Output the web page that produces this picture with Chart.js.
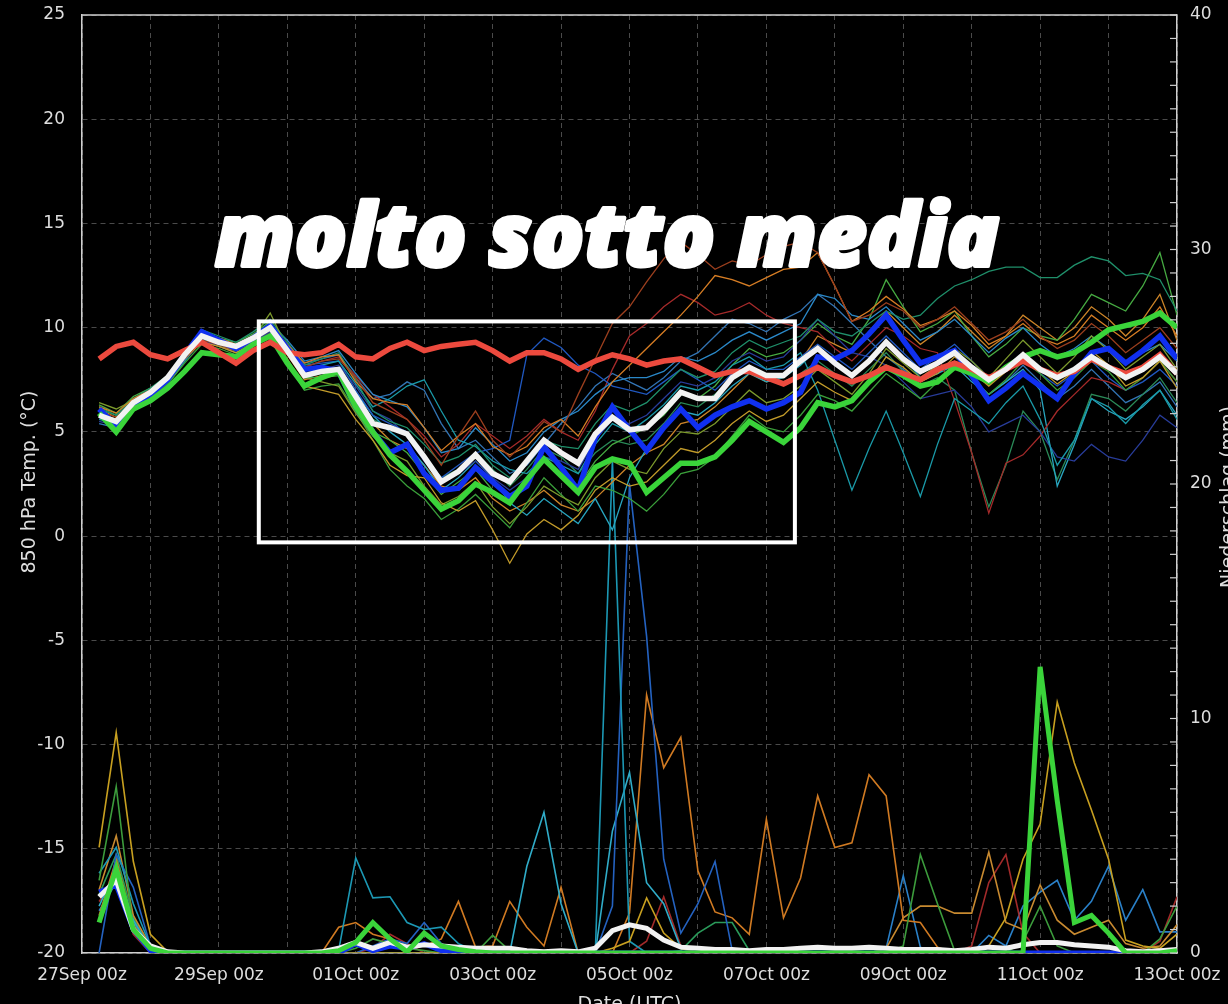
<!DOCTYPE html>
<html>
<head>
<meta charset="utf-8">
<script src="https://cdn.jsdelivr.net/npm/chart.js@4.4.1/dist/chart.umd.min.js"></script>
<style>
  html, body { margin: 0; padding: 0; background: #000; overflow: hidden; }
  #wrap { width: 1228px; height: 1004px; }
</style>
</head>
<body>
<div id="wrap"><canvas id="ensChart" width="1228" height="1004"></canvas></div>
<script>
// x axis: hours after 27Sep 00z, one value every 6 h starting at 06z
const stepHours = 6;
const tickLabels = ['27Sep 00z', '29Sep 00z', '01Oct 00z', '03Oct 00z', '05Oct 00z',
    '07Oct 00z', '09Oct 00z', '11Oct 00z', '13Oct 00z'];

// 850 hPa temperature (°C)
const tempMean = [
    5.8, 5.5, 6.4, 6.9, 7.6, 8.7, 9.6, 9.3,
    9.1, 9.5, 10.0, 8.9, 7.7, 7.9, 8.0, 6.7,
    5.4, 5.2, 4.9, 3.8, 2.6, 3.1, 3.9, 3.0,
    2.6, 3.6, 4.6, 4.0, 3.5, 4.9, 5.7, 5.1,
    5.2, 6.0, 6.9, 6.6, 6.6, 7.6, 8.1, 7.7,
    7.7, 8.4, 9.0, 8.3, 7.7, 8.4, 9.3, 8.5,
    7.9, 8.3, 8.8, 8.1, 7.5, 8.0, 8.7, 8.0,
    7.6, 8.0, 8.6, 8.1, 7.6, 8.0, 8.6, 7.8];
const tempCtrl = [
    6.1, 5.3, 6.3, 6.8, 7.5, 8.7, 9.8, 9.4,
    9.0, 9.5, 10.1, 9.0, 8.0, 8.1, 7.9, 6.2,
    5.0, 4.0, 4.4, 3.0, 2.2, 2.3, 3.3, 2.6,
    1.9, 2.4, 4.3, 3.3, 2.2, 4.7, 6.2, 5.1,
    4.1, 5.2, 6.1, 5.2, 5.8, 6.2, 6.5, 6.1,
    6.4, 6.9, 8.6, 8.5, 8.9, 9.7, 10.6, 9.4,
    8.3, 8.6, 8.9, 7.7, 6.5, 7.1, 7.8, 7.2,
    6.6, 7.8, 8.8, 9.0, 8.3, 8.9, 9.6, 8.5];
const tempOper = [
    5.9, 5.0, 6.1, 6.5, 7.1, 7.9, 8.8, 8.7,
    8.6, 9.2, 9.6, 8.3, 7.2, 7.6, 7.9, 6.2,
    5.0, 3.9, 3.1, 2.2, 1.3, 1.7, 2.5, 2.1,
    1.6, 2.7, 3.7, 2.9, 2.1, 3.3, 3.7, 3.5,
    2.1, 2.8, 3.5, 3.5, 3.8, 4.6, 5.5, 5.0,
    4.5, 5.2, 6.4, 6.2, 6.5, 7.4, 8.1, 7.7,
    7.2, 7.4, 8.1, 7.8, 7.4, 8.1, 8.6, 8.9,
    8.6, 8.8, 9.3, 9.9, 10.1, 10.3, 10.7, 10.0];
const tempClim = [
    8.5, 9.1, 9.3, 8.7, 8.5, 8.9, 9.3, 8.8,
    8.3, 8.9, 9.3, 8.8, 8.7, 8.8, 9.2, 8.6,
    8.5, 9.0, 9.3, 8.9, 9.1, 9.2, 9.3, 8.9,
    8.4, 8.8, 8.8, 8.5, 8.0, 8.4, 8.7, 8.5,
    8.2, 8.4, 8.5, 8.1, 7.7, 7.9, 7.9, 7.6,
    7.3, 7.7, 8.1, 7.7, 7.4, 7.7, 8.1, 7.8,
    7.5, 8.0, 8.3, 8.0, 7.6, 8.0, 8.4, 8.0,
    7.7, 7.9, 8.5, 8.1, 7.8, 8.1, 8.7, 7.8];

// ensemble members, temperature
const tempM01 = [
    6.0, 5.7, 6.3, 6.8, 7.4, 8.5, 9.4, 9.2,
    8.9, 9.4, 9.9, 9.0, 8.1, 8.4, 8.5, 7.6,
    6.4, 6.0, 5.6, 4.6, 3.4, 4.8, 6.0, 4.6,
    3.8, 4.6, 5.5, 5.0, 6.8, 8.5, 10.2, 11.0,
    12.2, 13.3, 14.1, 13.5, 12.8, 13.2, 13.0, 13.5,
    13.9, 14.1, 13.6, 12.0, 10.3, 10.6, 11.2, 10.8,
    10.0, 10.4, 11.0, 10.2, 9.4, 9.8, 10.4, 9.6,
    9.0, 9.4, 10.2, 9.6, 8.8, 9.4, 10.0, 9.0];
const tempM02 = [
    6.2, 5.9, 6.6, 7.0, 7.7, 8.8, 9.8, 9.5,
    9.2, 9.6, 10.1, 9.2, 8.3, 8.6, 8.7, 7.4,
    6.6, 6.4, 6.3, 5.2, 4.1, 4.8, 5.4, 4.3,
    3.9, 4.3, 5.2, 5.6, 4.8, 6.2, 7.4, 8.2,
    9.0, 9.8, 10.6, 11.5, 12.5, 12.3, 12.0, 12.4,
    12.8, 12.9, 13.6, 12.0, 10.3, 10.8, 11.5, 10.9,
    10.1, 10.4, 10.8, 10.1, 9.2, 9.6, 10.2, 9.5,
    9.2, 9.6, 10.6, 10.0, 9.4, 10.0, 11.0, 9.6];
const tempM03 = [
    5.9, 5.6, 6.2, 6.7, 7.4, 8.5, 9.3, 9.1,
    8.8, 9.2, 9.7, 8.5, 7.2, 7.0, 6.8, 5.6,
    4.6, 3.4, 2.9, 2.8, 1.6, 1.2, 1.7, 0.3,
    -1.3, 0.1, 0.8, 0.3, 1.0, 2.2, 2.8, 2.4,
    2.6, 3.4, 4.2, 4.0, 4.6, 5.4, 6.0, 5.5,
    5.8, 6.6, 7.4, 6.9, 6.5, 7.4, 8.6, 8.1,
    7.4, 7.8, 8.6, 7.9, 7.2, 7.9, 8.8, 8.0,
    7.3, 7.9, 8.9, 8.2, 7.2, 7.6, 8.4, 7.1];
const tempM04 = [
    6.4, 6.1, 6.5, 6.9, 7.5, 8.6, 9.6, 9.3,
    9.0, 9.5, 10.7, 9.0, 7.6, 7.4, 7.2, 5.9,
    4.8, 4.0, 3.6, 2.4, 1.5, 1.9, 2.6, 1.4,
    0.6, 1.4, 2.4, 1.9, 1.5, 2.8, 3.6, 3.2,
    3.0, 4.2, 5.0, 4.9, 5.4, 6.2, 7.0, 6.4,
    6.6, 7.2, 8.0, 7.4, 6.8, 7.8, 9.0, 8.3,
    7.6, 8.2, 9.0, 8.4, 7.6, 8.5, 9.4, 8.6,
    7.8, 8.6, 9.6, 8.9, 8.0, 8.6, 9.2, 8.0];
const tempM05 = [
    6.0, 5.2, 6.2, 6.6, 7.3, 8.3, 9.2, 9.0,
    8.7, 9.1, 9.6, 8.3, 7.0, 7.2, 7.3, 6.0,
    4.6, 3.2, 2.4, 1.8, 0.8, 1.3, 2.0, 1.2,
    0.4, 1.6, 2.8, 2.0, 1.2, 2.4, 2.2, 1.8,
    1.2, 2.0, 3.0, 3.2, 3.8, 4.8, 5.8, 5.2,
    5.0, 5.8, 6.8, 6.5, 6.0, 6.9, 7.8, 7.2,
    6.6, 7.4, 8.3, 7.6, 6.8, 7.5, 8.4, 7.8,
    7.0, 7.6, 8.4, 7.9, 7.0, 7.6, 8.4, 7.4];
const tempM06 = [
    6.1, 5.8, 6.6, 7.1, 7.7, 8.8, 9.9, 9.6,
    9.3, 9.8, 10.4, 9.3, 8.2, 8.5, 8.8, 7.5,
    6.0, 5.5, 5.2, 4.4, 3.5, 3.8, 4.4, 3.4,
    2.8, 3.6, 4.6, 4.3, 4.2, 5.4, 6.3, 6.0,
    6.4, 7.2, 8.0, 7.6, 7.9, 8.8, 9.4, 9.0,
    9.3, 9.6, 10.4, 9.8, 9.6, 10.2, 10.8, 10.4,
    10.6, 11.4, 12.0, 12.3, 12.7, 12.9, 12.9, 12.4,
    12.4, 13.0, 13.4, 13.2, 12.5, 12.6, 12.3, 10.8];
const tempM07 = [
    5.6, 5.4, 6.1, 6.6, 7.3, 8.4, 9.5, 9.2,
    9.0, 9.4, 10.0, 9.2, 8.0, 8.2, 8.4, 7.3,
    6.2, 6.6, 7.2, 7.5, 6.0, 4.6, 4.3, 3.6,
    3.2, 3.0, 3.8, 3.4, 3.0, 4.4, 5.4, 5.0,
    5.6, 6.3, 7.2, 7.0, 7.4, 8.2, 8.6, 8.0,
    8.2, 8.8, 7.0, 4.6, 2.2, 4.2, 6.0, 4.0,
    1.9, 4.4, 6.6, 6.0, 5.4, 6.4, 7.2, 5.6,
    3.4, 4.6, 6.6, 6.2, 5.4, 6.3, 7.0, 5.6];
const tempM08 = [
    5.9, 5.6, 6.3, 6.8, 7.5, 8.6, 9.7, 9.4,
    9.2, 9.6, 10.2, 9.4, 8.4, 8.6, 8.9, 7.8,
    6.8, 6.5, 6.2, 5.2, 4.0, 4.2, 5.2, 4.4,
    3.6, 4.0, 5.0, 5.6, 6.0, 6.8, 7.4, 7.6,
    7.6, 7.9, 8.6, 8.4, 8.8, 9.4, 9.8, 9.4,
    9.8, 10.2, 11.6, 11.4, 10.6, 10.4, 11.0, 10.2,
    9.4, 9.8, 10.4, 9.6, 8.8, 9.5, 10.0, 9.2,
    8.6, 9.0, 9.6, 9.0, 8.4, 8.8, 9.2, 8.4];
const tempM09 = [
    5.7, 5.5, 6.2, 6.7, 7.4, 8.5, 9.6, 9.3,
    9.1, 9.5, 10.0, 9.1, 8.2, 8.3, 8.4, 7.0,
    5.8, 5.4, 5.0, 3.8, 2.8, 3.4, 4.0, 4.2,
    4.6, 8.7, 9.5, 9.05, 8.2, 7.8, 7.2, 7.0,
    6.8, 7.4, 8.0, 7.5, 7.0, 7.8, 8.4, 8.0,
    8.0, 8.6, 9.2, 8.6, 8.0, 8.8, 9.6, 8.8,
    8.0, 8.6, 9.2, 8.4, 7.6, 8.0, 8.6, 7.8,
    7.2, 7.8, 8.4, 7.6, 7.0, 7.4, 8.0, 7.2];
const tempM10 = [
    5.5, 5.3, 6.0, 6.6, 7.3, 8.4, 9.4, 9.1,
    8.8, 9.3, 9.8, 8.9, 7.8, 8.0, 8.2, 7.2,
    6.0, 5.6, 4.8, 3.6, 2.6, 3.0, 3.6, 2.8,
    2.2, 2.8, 3.8, 3.6, 3.2, 4.6, 5.6, 5.4,
    5.8, 6.6, 7.4, 7.2, 7.6, 8.4, 8.8, 8.4,
    8.6, 9.4, 10.4, 9.6, 8.8, 8.6, 8.2, 7.4,
    6.6, 6.8, 7.0, 6.2, 5.0, 5.4, 5.8, 5.0,
    3.8, 3.6, 4.4, 3.8, 3.6, 4.6, 5.8, 5.2];
const tempM11 = [
    5.8, 5.6, 6.4, 6.9, 7.6, 8.7, 9.5, 9.3,
    9.0, 9.4, 10.1, 9.1, 8.1, 8.4, 8.6, 7.7,
    6.8, 6.2, 5.6, 4.8, 3.8, 4.4, 5.4, 4.8,
    4.2, 4.8, 5.6, 5.0, 4.6, 6.0, 8.0, 9.6,
    10.2, 11.0, 11.6, 11.2, 10.6, 10.8, 11.2, 10.6,
    10.2, 10.0, 9.8, 9.0, 8.4, 9.2, 10.0, 9.6,
    9.0, 8.8, 6.5, 4.0, 1.1, 3.5, 3.9, 4.8,
    6.0, 6.8, 7.6, 7.4, 7.0, 7.6, 8.4, 7.4];
const tempM12 = [
    6.3, 5.9, 6.7, 7.1, 7.6, 8.7, 9.8, 9.5,
    9.3, 9.7, 10.3, 9.0, 7.6, 7.6, 7.7, 6.4,
    5.0, 4.6, 4.0, 3.0, 2.0, 2.6, 3.2, 2.2,
    1.6, 2.6, 3.6, 3.0, 2.4, 3.6, 4.4, 4.8,
    5.2, 5.8, 6.8, 6.6, 7.2, 8.2, 9.0, 8.6,
    8.8, 9.4, 10.2, 9.6, 9.2, 10.4, 12.3, 11.0,
    9.8, 10.2, 10.8, 9.6, 8.6, 9.2, 10.0, 9.6,
    9.4, 10.4, 11.6, 11.2, 10.8, 12.0, 13.6, 10.6];
const tempM13 = [
    5.7, 5.4, 6.2, 6.8, 7.5, 8.6, 9.5, 9.3,
    9.0, 9.4, 9.9, 9.0, 7.8, 7.9, 8.1, 6.9,
    5.8, 5.0, 4.4, 3.4, 2.2, 2.8, 3.6, 2.8,
    1.6, 1.0, 1.8, 1.2, 0.6, 1.8, 0.3, 2.8,
    4.2, 5.2, 6.0, 5.8, 6.4, 7.2, 7.8, 7.4,
    7.6, 8.2, 9.0, 8.4, 7.8, 8.4, 9.2, 8.6,
    7.6, 7.8, 8.2, 7.4, 6.8, 7.4, 8.0, 7.0,
    2.4, 4.4, 6.6, 6.0, 5.6, 6.2, 7.0, 5.8];
const tempM14 = [
    6.1, 5.7, 6.4, 6.8, 7.4, 8.5, 9.4, 9.1,
    8.9, 9.3, 9.8, 8.7, 7.5, 7.7, 7.8, 6.6,
    5.4, 4.6, 4.2, 3.4, 2.4, 2.2, 2.8, 1.8,
    1.2, 1.6, 2.2, 1.5, 1.2, 1.8, 2.6, 3.4,
    4.0, 4.4, 5.4, 5.6, 6.2, 7.0, 7.8, 7.4,
    7.6, 8.4, 9.6, 9.2, 8.8, 9.8, 10.8, 10.0,
    9.2, 9.8, 10.6, 9.8, 9.0, 9.6, 10.6, 10.0,
    9.4, 10.0, 11.0, 10.4, 9.6, 10.4, 11.6, 9.4];
const tempM15 = [
    6.2, 5.8, 6.5, 6.9, 7.5, 8.6, 9.6, 9.3,
    9.0, 9.4, 10.0, 8.8, 7.6, 7.8, 8.0, 6.8,
    5.6, 5.2, 4.8, 3.8, 2.8, 3.2, 4.0, 3.2,
    2.4, 3.2, 4.2, 3.8, 3.0, 4.0, 4.6, 4.4,
    4.6, 5.4, 6.4, 6.2, 6.8, 7.6, 8.2, 7.6,
    7.4, 7.8, 8.4, 7.8, 7.2, 8.0, 8.8, 7.9,
    7.2, 7.6, 7.0, 4.0, 1.4, 3.4, 6.0, 5.0,
    2.7, 4.6, 6.8, 6.6, 6.0, 6.8, 7.6, 6.4];
const tempM16 = [
    5.4, 5.2, 6.0, 6.5, 7.3, 8.4, 9.4, 9.2,
    8.9, 9.3, 9.9, 9.2, 8.3, 8.5, 8.7, 7.6,
    6.6, 6.8, 7.4, 7.0, 5.4, 4.2, 4.6, 3.8,
    3.0, 3.4, 4.4, 5.4, 6.2, 7.2, 7.8, 7.4,
    7.0, 7.6, 8.4, 8.8, 9.6, 10.4, 10.2, 9.8,
    10.4, 10.8, 11.6, 11.0, 10.2, 9.4, 8.6, 8.0,
    7.4, 7.8, 8.4, 7.6, 6.8, 7.4, 8.2, 7.4,
    6.6, 7.2, 8.0, 7.2, 6.4, 6.8, 7.4, 6.2];

// 6-hourly precipitation (mm), right axis
const precipMean = [
    2.4, 3.1, 1.0, 0.3, 0.05, 0, 0, 0,
    0, 0, 0, 0, 0, 0.05, 0.2, 0.45,
    0.2, 0.45, 0.25, 0.35, 0.3, 0.25, 0.2, 0.2,
    0.2, 0.1, 0.05, 0.1, 0.05, 0.2, 0.95, 1.2,
    1.05, 0.55, 0.25, 0.2, 0.15, 0.15, 0.1, 0.15,
    0.15, 0.2, 0.25, 0.2, 0.2, 0.25, 0.2, 0.15,
    0.15, 0.15, 0.1, 0.15, 0.25, 0.2, 0.35, 0.45,
    0.45, 0.35, 0.3, 0.25, 0.1, 0.05, 0.1, 0.15];
const precipOper = [
    1.3, 3.6, 1.0, 0.2, 0, 0, 0, 0,
    0, 0, 0, 0, 0, 0, 0.1, 0.45,
    1.3, 0.6, 0.05, 0.85, 0.3, 0.15, 0.05, 0,
    0, 0, 0, 0, 0, 0, 0, 0,
    0, 0, 0, 0, 0, 0, 0, 0,
    0, 0, 0, 0, 0, 0, 0, 0,
    0, 0, 0, 0, 0, 0, 0, 12.2,
    6.5, 1.3, 1.6, 0.85, 0, 0, 0, 0.1];
const precipCtrl = [
    2.6, 2.9, 1.0, 0.1, 0, 0, 0, 0,
    0, 0, 0, 0, 0, 0, 0, 0.4,
    0.1, 0.3, 0.2, 0.4, 0.1, 0, 0, 0,
    0, 0, 0, 0, 0, 0, 0, 0,
    0, 0, 0, 0, 0, 0, 0, 0,
    0, 0, 0, 0, 0, 0, 0, 0,
    0, 0, 0, 0, 0, 0, 0, 0,
    0, 0, 0, 0, 0, 0, 0, 0];
const precipM01 = [
    4.5, 9.4, 3.9, 0.8, 0.05, 0, 0, 0,
    0, 0, 0, 0, 0, 0, 0, 0,
    0, 0, 0, 0, 0, 0, 0, 0,
    0, 0, 0, 0, 0, 0, 0.2, 0.5,
    2.35, 0.85, 0.2, 0, 0, 0, 0, 0,
    0, 0, 0, 0, 0, 0, 0, 0,
    0, 0, 0, 0, 0.3, 1.5, 4.0, 5.5,
    10.7, 8.1, 6.1, 4.0, 0.55, 0.3, 0.2, 0.8];
const precipM02 = [
    3.1, 7.1, 1.0, 0.2, 0, 0, 0, 0,
    0, 0, 0, 0, 0, 0, 0, 0.2,
    0.6, 0.4, 0.2, 0.1, 0, 0, 0, 0.75,
    0.1, 0, 0, 0, 0, 0, 0, 0,
    0, 0, 0, 0, 0, 0, 0, 0,
    0, 0, 0, 0, 0, 0, 0, 0.3,
    4.2, 2.1, 0.1, 0, 0, 0, 0.5, 2.0,
    0.3, 0, 0, 0, 0, 0, 0.6, 2.0];
const precipM03 = [
    3.4, 4.5, 2.1, 0.3, 0, 0, 0, 0,
    0, 0, 0, 0, 0, 0, 0.1, 4.05,
    2.35, 2.4, 1.3, 1.0, 1.1, 0.4, 0.1, 0,
    0, 0, 0, 0, 0, 0, 21, 0.5,
    0, 0, 0, 0, 0, 0, 0, 0,
    0, 0, 0, 0, 0, 0, 0, 0,
    0, 0, 0, 0, 0, 0, 0, 0,
    0, 0, 0, 0, 0, 0, 0, 0];
const precipM04 = [
    0, 4.2, 2.8, 0.3, 0, 0, 0, 0,
    0, 0, 0, 0, 0, 0, 0, 0,
    0.3, 0.6, 0.4, 1.3, 0.4, 0.1, 0, 0,
    0, 0, 0, 0, 0, 0, 2.0, 20,
    13.5, 4.0, 0.85, 2.1, 3.9, 0.1, 0, 0,
    0, 0, 0, 0, 0, 0, 0, 0,
    0, 0, 0, 0, 0, 0, 0, 0,
    0, 0, 0, 0, 0, 0, 0, 0];
const precipM05 = [
    2.0, 3.6, 1.4, 0.2, 0, 0, 0, 0,
    0, 0, 0, 0, 0, 0, 0, 0,
    0, 0, 0, 0, 0, 0, 0, 0,
    0, 3.7, 6.0, 2.1, 0, 0, 5.2, 7.7,
    3.0, 2.1, 0.2, 0, 0, 0, 0, 0,
    0, 0, 0, 0, 0, 0, 0, 0,
    0, 0, 0, 0, 0, 0, 0, 0,
    0, 0, 0, 0, 0, 0, 0, 0];
const precipM06 = [
    1.6, 4.0, 1.2, 0.2, 0, 0, 0, 0,
    0, 0, 0, 0, 0, 0, 1.1, 1.3,
    0.8, 0.6, 0.3, 0.3, 0.6, 2.2, 0.25, 0.3,
    2.2, 1.1, 0.3, 2.8, 0, 0, 0, 1.7,
    11.0, 7.9, 9.2, 3.5, 1.75, 1.5, 0.8, 5.7,
    1.5, 3.2, 6.7, 4.5, 4.7, 7.6, 6.7, 1.4,
    1.3, 0.25, 0, 0, 0, 0, 0, 0,
    0, 0, 0, 0, 0, 0, 0, 0];
const precipM07 = [
    2.7, 5.0, 1.6, 0.3, 0, 0, 0, 0,
    0, 0, 0, 0, 0, 0, 0, 0,
    0, 0, 0, 0, 0, 0, 0, 0,
    0, 0, 0, 0, 0, 0, 0, 0,
    0, 0, 0, 0, 0, 0, 0, 0,
    0, 0, 0, 0, 0, 0, 0.2, 1.5,
    2.0, 2.0, 1.7, 1.7, 4.3, 1.3, 1.0, 2.9,
    1.4, 0.8, 1.1, 1.4, 0.4, 0.2, 0.3, 1.2];
const precipM08 = [
    2.2, 3.2, 0.8, 0, 0, 0, 0, 0,
    0, 0, 0, 0, 0, 0, 0, 0,
    0.2, 0.8, 0.4, 0, 0, 0, 0, 0,
    0, 0, 0, 0, 0, 0, 0, 0,
    0.5, 2.4, 0.3, 0, 0, 0, 0, 0,
    0, 0, 0, 0, 0, 0, 0, 0,
    0, 0, 0, 0.3, 3.0, 4.2, 0.85, 0,
    0, 0, 0, 0, 0, 0, 0.5, 2.4];
const precipM09 = [
    1.8, 3.0, 1.3, 0.2, 0, 0, 0, 0,
    0, 0, 0, 0, 0, 0, 0, 0,
    0, 0, 0, 0, 0, 0, 0, 0,
    0, 0, 0, 0, 0, 0, 0, 0,
    0, 0, 0, 0, 0, 0, 0, 0,
    0, 0, 0, 0, 0, 0, 0.2, 3.3,
    0.25, 0, 0, 0, 0.75, 0.3, 2.0, 2.6,
    3.1, 1.4, 2.2, 3.7, 1.4, 2.7, 0.9, 0.9];
const precipM10 = [
    2.5, 4.2, 1.5, 0.2, 0, 0, 0, 0,
    0, 0, 0, 0, 0, 0, 0, 0,
    0, 0, 0, 0, 0, 0, 0, 0,
    0, 0, 0, 0, 0, 0, 0, 0,
    0, 0, 0.1, 0.85, 1.3, 1.3, 0.1, 0,
    0, 0, 0, 0, 0, 0, 0, 0,
    0, 0, 0, 0, 0, 0, 0, 0,
    0, 0, 0, 0, 0, 0, 0, 0];

// overlay annotation
const headline = 'molto sotto media';
const boxHours = [62, 250];
const boxTemps = [10.3, -0.3];

const tempMembers = [
    [tempM01, '#9c3f1e'], [tempM02, '#d67d24'], [tempM03, '#c29b2a'], [tempM04, '#7c9a2c'],
    [tempM05, '#3a9f3a'], [tempM06, '#1f8f6a'], [tempM07, '#1a9aa8'], [tempM08, '#2a88c8'],
    [tempM09, '#2058c0'], [tempM10, '#283c9a'], [tempM11, '#a62a2a'], [tempM12, '#46aa42'],
    [tempM13, '#28a6c0'], [tempM14, '#cc8428'], [tempM15, '#2a8a58'], [tempM16, '#3274b4']
];
const precipMembers = [
    [precipM01, '#c8a020'], [precipM02, '#3c9c3c'], [precipM03, '#1c98b4'], [precipM04, '#2462c0'],
    [precipM05, '#30acc8'], [precipM06, '#d07a22'], [precipM07, '#c88a30'], [precipM08, '#a22a2a'],
    [precipM09, '#2a80c8'], [precipM10, '#2a9a5a']
];

function toPoints(values) {
    return values.map((v, k) => ({ x: (k + 1) * stepHours, y: v }));
}

function lineSet(values, color, width, axis, order) {
    return {
        data: toPoints(values),
        yAxisID: axis,
        borderColor: color,
        borderWidth: width,
        pointRadius: 0,
        tension: 0,
        fill: false,
        order: order
    };
}

const datasets = [];
tempMembers.forEach(([vals, col]) => datasets.push(lineSet(vals, col, 1.3, 'y', 20)));
precipMembers.forEach(([vals, col]) => datasets.push(lineSet(vals, col, 1.6, 'y2', 20)));
datasets.push(lineSet(tempCtrl, '#1030f0', 5.5, 'y', 4));
datasets.push(lineSet(tempOper, '#3ad43a', 5.5, 'y', 3));
datasets.push(lineSet(tempClim, '#ec4a3e', 5.5, 'y', 2));
datasets.push(lineSet(tempMean, '#f2f2f2', 5.5, 'y', 1));
datasets.push(lineSet(precipCtrl, '#1030f0', 5, 'y2', 4));
datasets.push(lineSet(precipMean, '#f2f2f2', 5, 'y2', 2));
datasets.push(lineSet(precipOper, '#3ad43a', 5, 'y2', 1));

const axisColor = '#cfcfcf';
const textColor = '#dedede';
const gridColor = '#4a4a4a';
const tickFont = { family: 'DejaVu Sans', size: 17 };

const overlay = {
    id: 'overlay',
    beforeDraw(chart) {
        const ctx = chart.ctx;
        ctx.save();
        ctx.fillStyle = '#000';
        ctx.fillRect(0, 0, chart.width, chart.height);
        ctx.restore();
    },
    afterDraw(chart) {
        const { ctx, chartArea: a, scales } = chart;
        ctx.save();
        // top spine
        ctx.strokeStyle = axisColor;
        ctx.lineWidth = 1.5;
        ctx.beginPath();
        ctx.moveTo(a.left, a.top);
        ctx.lineTo(a.right, a.top);
        ctx.stroke();
        // inward ticks on the precipitation axis
        ctx.lineWidth = 1.2;
        for (let v = 0; v <= 40; v++) {
            const py = scales.y2.getPixelForValue(v);
            ctx.beginPath();
            ctx.moveTo(a.right - 7, py);
            ctx.lineTo(a.right, py);
            ctx.stroke();
        }
        // highlighted box
        const x0 = scales.x.getPixelForValue(boxHours[0]);
        const x1 = scales.x.getPixelForValue(boxHours[1]);
        const y0 = scales.y.getPixelForValue(boxTemps[0]);
        const y1 = scales.y.getPixelForValue(boxTemps[1]);
        ctx.strokeStyle = '#ffffff';
        ctx.lineWidth = 4;
        ctx.strokeRect(x0, y0, x1 - x0, y1 - y0);
        // headline: heavy italic, scaled to its width in the picture
        ctx.fillStyle = '#ffffff';
        ctx.strokeStyle = '#ffffff';
        ctx.lineJoin = 'round';
        ctx.font = 'italic 900 80px "Noto Sans"';
        const w = ctx.measureText(headline).width;
        const size = Math.round(80 * 782 / w);
        ctx.font = 'italic 900 ' + size + 'px "Noto Sans"';
        ctx.textAlign = 'center';
        ctx.textBaseline = 'alphabetic';
        ctx.lineWidth = 4;
        ctx.strokeText(headline, 607, 266);
        ctx.fillText(headline, 607, 266);
        // axis titles
        ctx.fillStyle = textColor;
        ctx.font = '19px "DejaVu Sans"';
        ctx.save();
        ctx.translate(35, 482);
        ctx.rotate(-Math.PI / 2);
        ctx.fillText('850 hPa Temp. (°C)', 0, 0);
        ctx.restore();
        ctx.save();
        ctx.translate(1234, 497);
        ctx.rotate(-Math.PI / 2);
        ctx.fillText('Niederschlag (mm)', 0, 0);
        ctx.restore();
        ctx.fillText('Date (UTC)', (a.left + a.right) / 2, 1010);
        ctx.restore();
    }
};

new Chart(document.getElementById('ensChart').getContext('2d'), {
    type: 'line',
    data: { datasets: datasets },
    plugins: [overlay],
    options: {
        responsive: false,
        animation: false,
        devicePixelRatio: 1,
        layout: { padding: { top: 15, left: 0, right: 0, bottom: 0 } },
        plugins: { legend: { display: false }, tooltip: { enabled: false } },
        scales: {
            x: {
                type: 'linear',
                min: 0,
                max: 384,
                afterFit: s => { s.height = 51; s.paddingLeft = 0; s.paddingRight = 0; },
                afterBuildTicks: s => {
                    s.ticks = [];
                    for (let h = 0; h <= 384; h += 24) s.ticks.push({ value: h });
                },
                ticks: {
                    autoSkip: false,
                    maxRotation: 0,
                    padding: 12,
                    color: textColor,
                    font: tickFont,
                    callback: v => (v % 48 === 0 ? tickLabels[v / 48] : '')
                },
                grid: { color: gridColor, lineWidth: 1, drawTicks: false },
                border: { color: axisColor, width: 1.5, dash: [5, 4] }
            },
            y: {
                position: 'left',
                min: -20,
                max: 25,
                afterFit: s => { s.width = 82; s.paddingTop = 0; s.paddingBottom = 0; },
                ticks: { stepSize: 5, padding: 17, color: textColor, font: tickFont },
                grid: { color: gridColor, lineWidth: 1, drawTicks: false },
                border: { color: axisColor, width: 1.5, dash: [5, 4] }
            },
            y2: {
                position: 'right',
                min: 0,
                max: 40,
                afterFit: s => { s.width = 51; s.paddingTop = 0; s.paddingBottom = 0; },
                ticks: {
                    stepSize: 1,
                    autoSkip: false,
                    padding: 13,
                    color: textColor,
                    font: tickFont,
                    callback: v => (v % 10 === 0 ? String(v) : '')
                },
                grid: { drawOnChartArea: false, drawTicks: false },
                border: { color: axisColor, width: 1.5 }
            }
        }
    }
});
</script>
</body>
</html>
